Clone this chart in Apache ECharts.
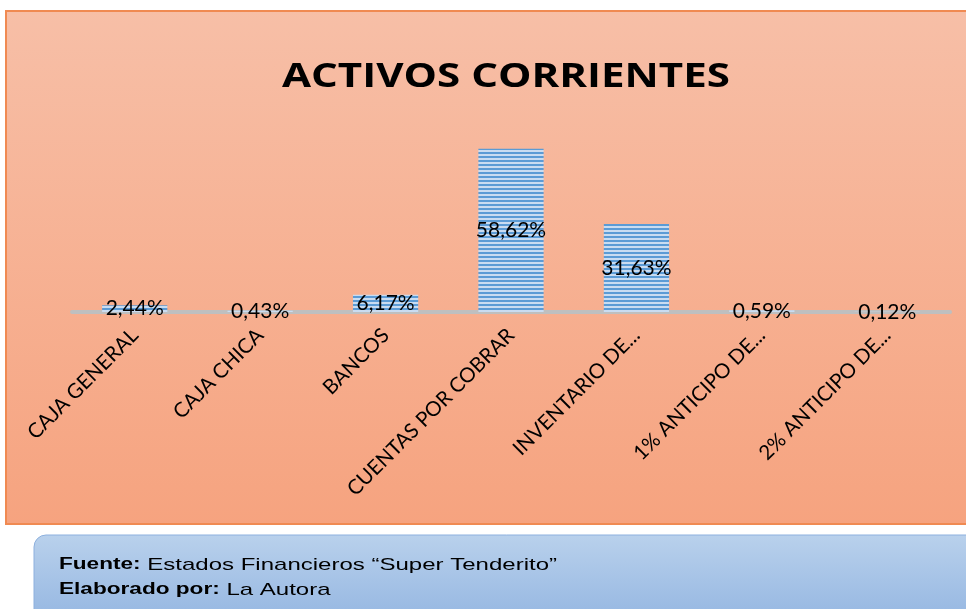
<!DOCTYPE html>
<html>
<head>
<meta charset="utf-8">
<script src="https://cdn.jsdelivr.net/npm/echarts@6/dist/echarts.min.js"></script>
<style>
html,body{margin:0;padding:0;background:#fff;}
#main{width:966px;height:609px;}
</style>
</head>
<body>
<div id="main"></div>
<script>
const titleText = 'ACTIVOS CORRIENTES';
const categories = ['CAJA GENERAL','CAJA CHICA','BANCOS','CUENTAS POR COBRAR','INVENTARIO DE...','1% ANTICIPO DE...','2% ANTICIPO DE...'];
const values = [2.44, 0.43, 6.17, 58.62, 31.63, 0.59, 0.12];
const footerSource = 'Estados Financieros \u201cSuper Tenderito\u201d';
const footerAuthor = 'La Autora';

// striped bar pattern
const pc = document.createElement('canvas');
pc.width = 4; pc.height = 4;
const px = pc.getContext('2d');
px.fillStyle = '#5B9BD5'; px.fillRect(0,0,4,2);
px.fillStyle = '#C9DCF1'; px.fillRect(0,2,4,2);

// text measurement for horizontal stretch
const mc = document.createElement('canvas').getContext('2d');
function tw(font, s){ mc.font = font; return mc.measureText(s).width; }
const titleFont = 'bold 34px "Open Sans"';
const titleScale = 448 / tw(titleFont, titleText);
const fLine1 = tw('bold 16px "Liberation Sans"', 'Fuente:') + tw('17px "Liberation Sans"', ' ' + footerSource);
const footScale = 498 / fLine1;

const chart = echarts.init(document.getElementById('main'), null, {renderer:'canvas'});
chart.setOption({
  animation: false,
  backgroundColor: '#ffffff',
  graphic: [
    {type:'rect', z:-10, silent:true,
     shape:{x:6, y:11, width:990, height:513},
     style:{fill:new echarts.graphic.LinearGradient(0,0,0,1,[{offset:0,color:'#F7BFA7'},{offset:1,color:'#F6A37F'}]),
            stroke:'#F08A52', lineWidth:2}},
    {type:'rect', z:-10, silent:true,
     shape:{x:34, y:535, width:960, height:90, r:[12,0,0,0]},
     style:{fill:new echarts.graphic.LinearGradient(0,0,0,1,[{offset:0,color:'#B9D1EC'},{offset:1,color:'#93B5E1'}]),
            stroke:'#8DB0DE', lineWidth:1}},
    {type:'text', z:5, x:282, y:77, scaleX: titleScale,
     style:{text:titleText, font: titleFont, fill:'#000', textAlign:'left', textVerticalAlign:'middle'}},
    {type:'text', z:5, x:59, y:565, scaleX: footScale,
     style:{text:'{b|Fuente:} ' + footerSource, fontFamily:'Liberation Sans', fontSize:17, fill:'#000',
            textVerticalAlign:'middle',
            rich:{b:{fontWeight:'bold', fontFamily:'Liberation Sans', fontSize:16}}}},
    {type:'text', z:5, x:59, y:590, scaleX: footScale,
     style:{text:'{b|Elaborado por:} ' + footerAuthor, fontFamily:'Liberation Sans', fontSize:17, fill:'#000',
            textVerticalAlign:'middle',
            rich:{b:{fontWeight:'bold', fontFamily:'Liberation Sans', fontSize:16}}}}
  ],
  grid: {left: 72, right: 16, top: 117, bottom: 297, containLabel: false},
  xAxis: {
    type: 'category',
    data: categories,
    axisLine: {show: true, lineStyle: {color: '#BFBFBF', width: 4}},
    axisTick: {show: false},
    axisLabel: {rotate: 45, interval: 0, margin: 20, color: '#000', fontFamily: 'Lato', fontSize: 20.5}
  },
  yAxis: {type: 'value', min: 0, max: 70, show: false, splitLine: {show: false}},
  series: [{
    type: 'bar',
    data: values,
    barWidth: '52%',
    itemStyle: {color: {image: pc, repeat: 'repeat'}},
    label: {
      show: true, position: 'inside', color: '#000', fontFamily: 'Lato', fontSize: 21,
      formatter: p => p.value.toFixed(2).replace('.', ',') + '%'
    }
  }]
});
</script>
</body>
</html>
